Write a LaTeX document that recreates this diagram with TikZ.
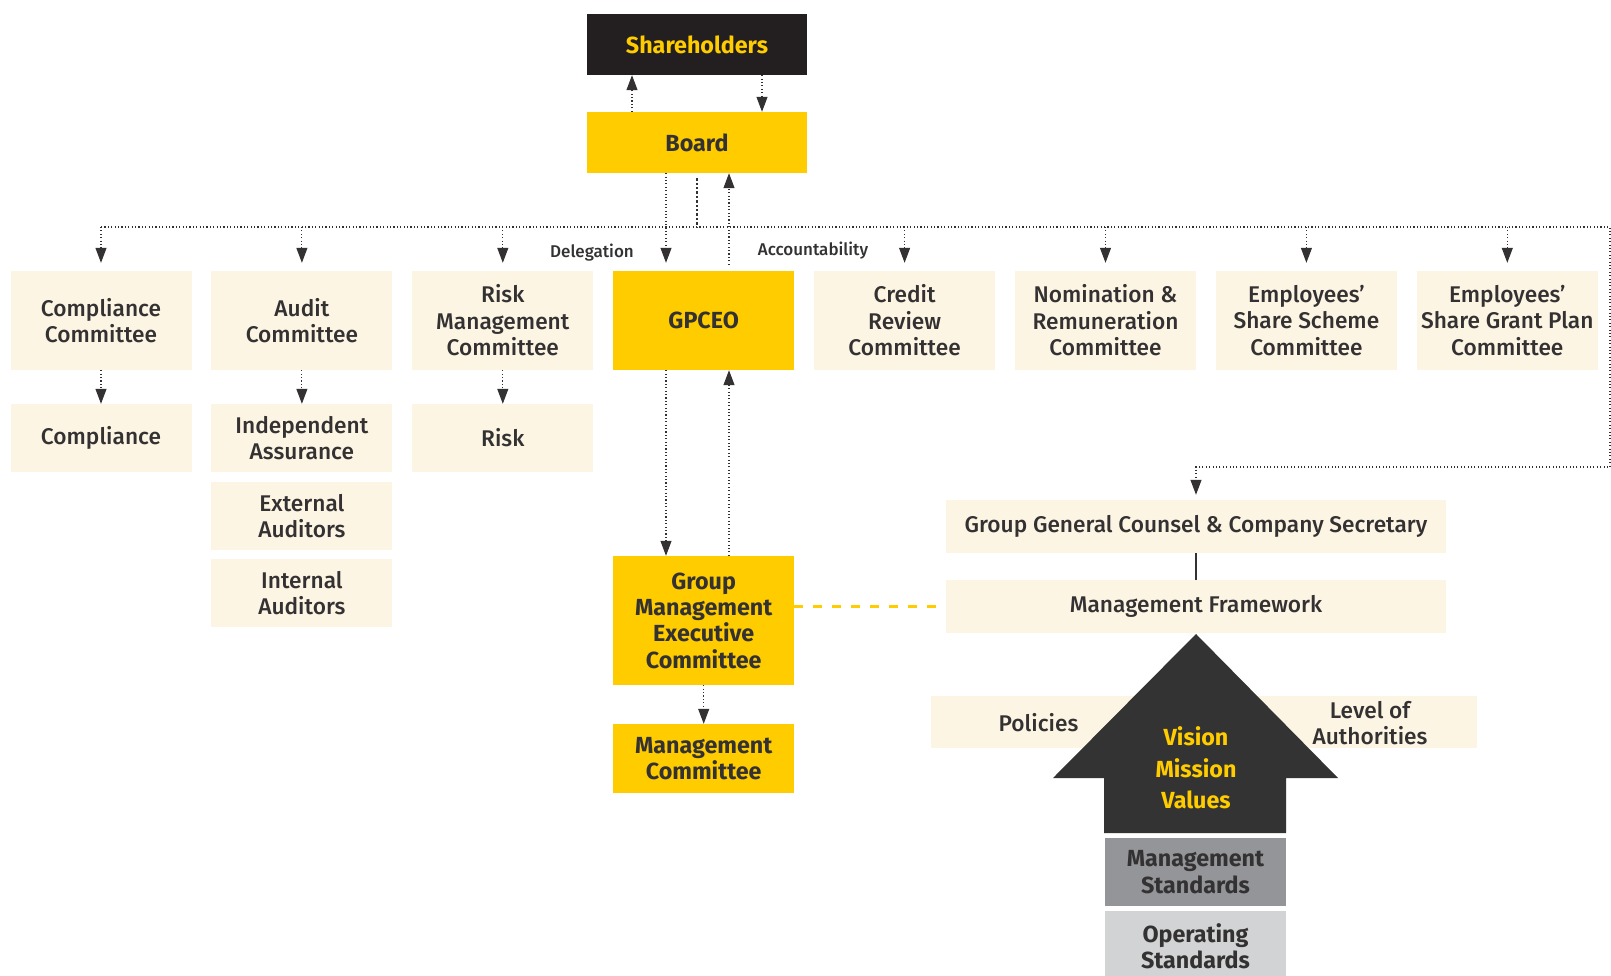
\documentclass[tikz,border=0pt]{standalone}
\usepackage{fontspec}
\setmainfont{Fira Sans}[UprightFont={* Medium}, BoldFont={* Bold}]
\usetikzlibrary{arrows.meta}
\definecolor{gold}{HTML}{FFCC00}
\definecolor{cream}{HTML}{FDF5E4}
\definecolor{ink}{HTML}{333132}
\definecolor{night}{HTML}{231F20}
\definecolor{slab}{HTML}{333333}
\definecolor{steel}{HTML}{939598}
\definecolor{mist}{HTML}{D1D3D4}

\begin{document}
\begin{tikzpicture}[x=1pt, y=-1pt, node distance=200.9pt,
  every node/.style={font=\fontsize{22.7}{26.5}\selectfont, text=ink, align=center, inner sep=0pt},
  box/.style={fill=cream, minimum width=181pt, minimum height=99pt},
  subbox/.style={fill=cream, minimum width=181pt, minimum height=68pt},
  goldbox/.style={fill=gold, font=\fontsize{23.3}{26.3}\selectfont\bfseries},
  link/.style={draw=ink, line width=1.1pt, dash pattern=on 1.1pt off 2.3pt, -{Triangle[width=11pt,length=15pt]}},
  small/.style={font=\fontsize{17}{20}\selectfont}]
  \useasboundingbox (0,0) rectangle (1611,976);

  \node[goldbox, fill=night, text=gold, minimum width=220pt, minimum height=61pt] (share) at (697,44.5) {Shareholders};
  \node[goldbox, minimum width=220pt, minimum height=61pt] (board) at (697,142.5) {Board};

  \node[box] (compc) at (101,320.5) {Compliance\\Committee};
  \node[box] (auditc) [right of=compc] {Audit\\Committee};
  \node[box] (riskc) [right of=auditc] {Risk\\Management\\Committee};
  \node[box, goldbox] (gpceo) [right of=riskc] {GPCEO};
  \node[box] (creditc) [right of=gpceo] {Credit\\Review\\Committee};
  \node[box] (nomc) [right of=creditc] {Nomination \&\\Remuneration\\Committee};
  \node[box] (essc) [right of=nomc] {Employees’\\Share Scheme\\Committee};
  \node[box] (esgc) [right of=essc] {Employees’\\Share Grant Plan\\Committee};

  \node[subbox] (comp) [below of=compc, node distance=117.5pt] {Compliance};
  \node[subbox] (indep) [below of=auditc, node distance=117.5pt] {Independent\\Assurance};
  \node[subbox] (extaud) [below of=indep, node distance=78pt] {External\\Auditors};
  \node[subbox] (intaud) [below of=extaud, node distance=77pt] {Internal\\Auditors};
  \node[subbox] (risk) [below of=riskc, node distance=117.5pt] {Risk};

  \node[goldbox, minimum width=181pt, minimum height=129pt] (gmec) [below of=gpceo, node distance=300pt] {Group\\Management\\Executive\\Committee};
  \node[goldbox, minimum width=181pt, minimum height=69pt] (mc) [below of=gmec, node distance=138pt] {Management\\Committee};

  \node[fill=cream, minimum width=500pt, minimum height=53pt] (ggc) at (1196,526.5) {Group General Counsel \& Company Secretary};
  \node[fill=cream, minimum width=500pt, minimum height=53pt] (mf) [below of=ggc, node distance=80pt] {Management Framework};

  \node[fill=cream, minimum width=546pt, minimum height=52pt] (polbar) at (1204,722) {};
  \node (pol) at (1038.5,723) {Policies};
  \node (loa) at (1370,723) {Level of\\Authorities};
  \fill[slab] (1196,634) -- (1338,778) -- (1286,778) -- (1286,833) -- (1104,833) -- (1104,778) -- (1053,778) -- cycle;
  \node[font=\fontsize{23.3}{31.5}\selectfont\bfseries, text=gold] (vmv) at (1196,768) {Vision\\Mission\\Values};
  \node[goldbox, fill=steel, minimum width=181pt, minimum height=68pt] (mstd) at (1195.5,872) {Management\\Standards};
  \node[goldbox, fill=mist, minimum width=181pt, minimum height=70pt] (ostd) at (1195.5,946) {Operating\\Standards};

  \node[small] (deleg) at (592,253) {Delegation};
  \node[small] (acct) at (813,251) {Accountability};

  \coordinate (hub) at (697,227);
  \coordinate (bend) at (1610,227);
  \coordinate (turn) at (1610,467);

  \draw[link] ([xshift=-65pt]board.north) -- ([xshift=-65pt]share.south);
  \draw[link] ([xshift=65pt]share.south) -- ([xshift=65pt]board.north);
  \draw[link, shorten >=8pt] ([xshift=-31pt]board.south) -- ([xshift=-31pt]board.south |- gpceo.north);
  \draw[link, shorten <=6pt] ([xshift=32pt]board.south |- gpceo.north) -- ([xshift=32pt]board.south);
  \draw[ink, line width=2.4pt, dash pattern=on 2.4pt off 2pt] ([yshift=-5pt]board.south) -- (hub);

  \draw[link, shorten >=5pt] (compc.north |- hub) -- (bend) -- (turn) -- (turn -| ggc.north) -- (ggc.north);
  \draw[link, shorten >=8pt] (compc.north |- hub) -- (compc.north);
  \draw[link, shorten >=8pt] (auditc.north |- hub) -- (auditc.north);
  \draw[link, shorten >=8pt] (riskc.north |- hub) -- (riskc.north);
  \draw[link, shorten >=8pt] (creditc.north |- hub) -- (creditc.north);
  \draw[link, shorten >=8pt] (nomc.north |- hub) -- (nomc.north);
  \draw[link, shorten >=8pt] (essc.north |- hub) -- (essc.north);
  \draw[link, shorten >=8pt] (esgc.north |- hub) -- (esgc.north);

  \draw[link] (compc.south) -- (comp.north);
  \draw[link] (auditc.south) -- (indep.north);
  \draw[link] (riskc.south) -- (risk.north);

  \draw[link] ([xshift=-31pt]board.south |- gpceo.south) -- ([xshift=-31pt]board.south |- gmec.north);
  \draw[link] ([xshift=32pt]board.south |- gmec.north) -- ([xshift=32pt]board.south |- gpceo.south);
  \draw[link] (gmec.south) -- (mc.north);

  \draw[ink, line width=1.5pt] (ggc.south) -- (mf.north);
  \draw[gold, line width=3pt, dash pattern=on 9pt off 10pt] (mf.west -| gmec.east) -- (mf.west);
\end{tikzpicture}
\end{document}
